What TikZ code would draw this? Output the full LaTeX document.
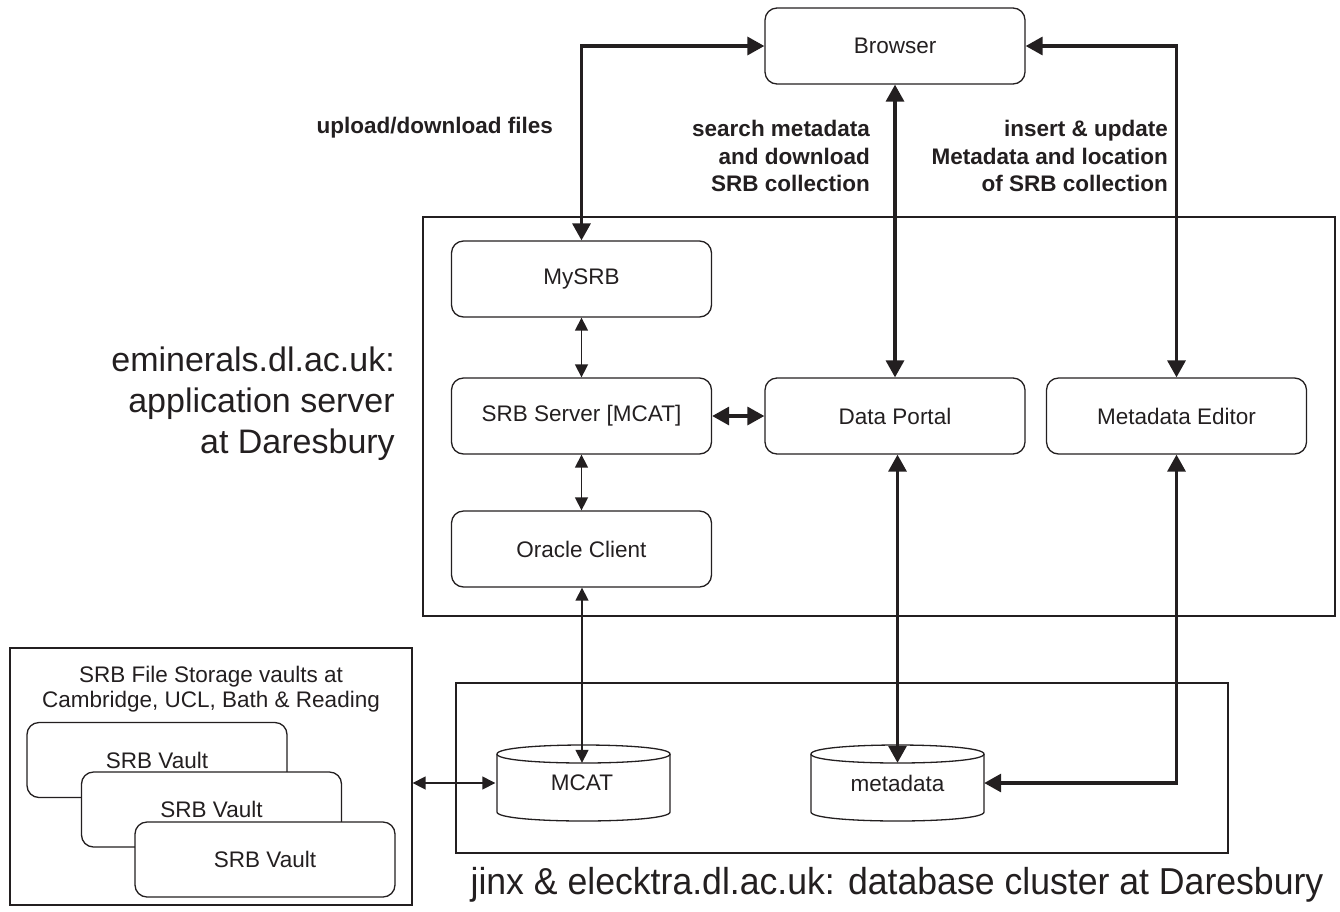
\documentclass[tikz,border=0pt]{standalone}
\usepackage{fontspec}
\setmainfont{Liberation Sans}
\usetikzlibrary{arrows.meta}
\definecolor{ink}{RGB}{35,31,32}
\begin{document}
\begin{tikzpicture}[x=1pt,y=-1pt,
  every node/.style={text=ink},
  box/.style={draw=ink, rounded corners=12pt, line width=1.3pt, minimum width=260pt, minimum height=76pt, inner sep=0pt, font=\fontsize{22.5}{27}\selectfont},
  vaultbox/.style={box, fill=white, minimum height=75pt},
  frame/.style={draw=ink, line width=1.3pt, inner sep=0pt},
  cyl/.style={minimum width=173pt, minimum height=40pt, inner sep=0pt, font=\fontsize{22.5}{27}\selectfont},
  cylline/.style={draw=ink, line width=1.3pt},
  lbl/.style={font=\fontsize{22.5}{27.5}\selectfont\bfseries, inner sep=0pt, align=right},
  biglbl/.style={font=\fontsize{34}{41}\selectfont, inner sep=0pt, align=right},
  bigarrow/.style={draw=ink, line width=3.3pt, {Triangle[length=17pt,width=18pt]}-{Triangle[length=17pt,width=18pt]}},
  smallarrow/.style={draw=ink, line width=1.5pt, {Triangle[length=13pt,width=13pt]}-{Triangle[length=13pt,width=13pt]}}
]
\useasboundingbox (0,0) rectangle (1340,911);

% frames
\node[frame, minimum width=912pt, minimum height=399pt] (app) at (879,416.5) {};
\node[frame, minimum width=772pt, minimum height=170pt] (db) at (842,768) {};
\node[frame, minimum width=402pt, minimum height=257pt] (vaults) at (211,776.5) {};

% boxes
\node[box] (browser) at (895,46) {Browser};
\node[box] (mysrb) at (581.5,279) {MySRB};
\node[box] (srb) at (581.5,416) {SRB Server [MCAT]};
\node[box] (oracle) at (581.5,549) {Oracle Client};
\node[box] (portal) at (895,416) {Data Portal};
\node[box] (editor) at (1176.5,416) {Metadata Editor};

% vault stack
\node[font=\fontsize{22.5}{25}\selectfont, align=center, inner sep=0pt] (vtitle) at (211,689.5) {SRB File Storage vaults at\\Cambridge, UCL, Bath \& Reading};
\node[vaultbox] (v1) at (157,760) {SRB Vault};
\node[vaultbox] (v2) at (211.5,809.5) {SRB Vault};
\node[vaultbox] (v3) at (265,859.5) {SRB Vault};

% cylinders
\draw[cylline] (497,754) .. controls (497,742) and (670,742) .. (670,754)
  .. controls (670,766) and (497,766) .. (497,754);
\draw[cylline] (497,754) -- (497,812) .. controls (497,824) and (670,824) .. (670,812) -- (670,754);
\node[cyl] (mcat) at (582,783) {MCAT};

\draw[cylline] (811,754) .. controls (811,742) and (984,742) .. (984,754)
  .. controls (984,766) and (811,766) .. (811,754);
\draw[cylline] (811,754) -- (811,812) .. controls (811,824) and (984,824) .. (984,812) -- (984,754);
\node[cyl] (metadata) at (897.5,783) {metadata};

% labels
\node[lbl, anchor=east] (l1) at (553,128) {upload/download files};
\node[lbl, anchor=east] (l2) at (870,156) {search metadata\\and download\\SRB collection};
\node[lbl, anchor=east] (l3) at (1168,156) {insert \& update\\Metadata and location\\of SRB collection};
\node[biglbl, anchor=east] (appname) at (395,404) {eminerals.dl.ac.uk:\\application server\\at Daresbury};
\node[font=\fontsize{37.5}{40}\selectfont, inner sep=0pt, xscale=0.95] (dbname) at (897,885) {jinx \& elecktra.dl.ac.uk: database cluster at Daresbury};

% connectors
\draw[bigarrow] (browser.west) -| (mysrb.north);
\draw[bigarrow] (browser.south) -- (portal.north);
\draw[bigarrow] (browser.east) -| (editor.north);
\draw[smallarrow] (mysrb.south) -- (srb.north);
\draw[bigarrow] (srb.east) -- (portal.west);
\draw[smallarrow] (srb.south) -- (oracle.north);
\draw[smallarrow] (oracle.south -| mcat.north) -- (mcat.north);
\draw[bigarrow] (portal.south -| metadata.north) -- (metadata.north);
\draw[bigarrow] (editor.south) |- (metadata.east);
\draw[smallarrow] (vaults.east |- mcat.west) -- (mcat.west);
\end{tikzpicture}
\end{document}
